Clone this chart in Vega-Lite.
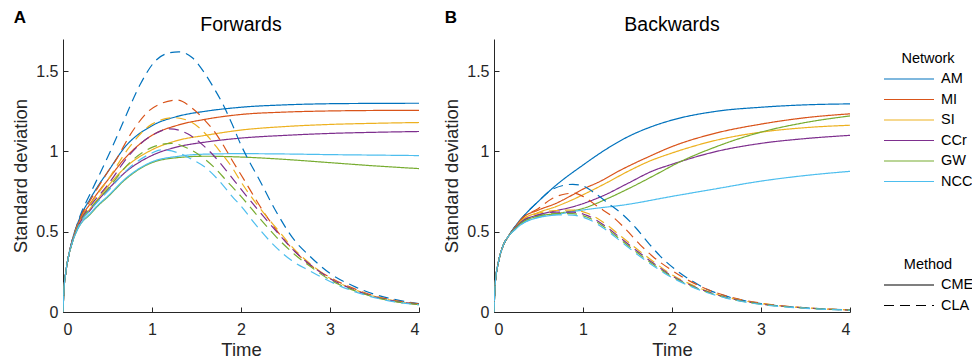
{
"$schema":"https://vega.github.io/schema/vega-lite/v6.json",
"padding":{"left":11,"top":8,"right":0,"bottom":0},
"config":{
 "font":"Liberation Sans",
 "view":{"stroke":null},
 "axis":{"grid":false,"domainColor":"#262626","tickColor":"#262626","labelColor":"#262626","titleColor":"#262626","labelFontSize":16,"titleFontSize":18.5,"titleFontWeight":"normal","tickSize":-5,"domainWidth":1,"tickWidth":1},
 "axisX":{"titlePadding":3,"labelPadding":14},
 "axisY":{"titlePadding":5,"labelPadding":10},
 "title":{"fontSize":19.5,"fontWeight":"normal","color":"#000"},
 "legend":{"orient":"none","symbolType":"stroke","symbolSize":2500,"symbolStrokeWidth":1.2,"labelFontSize":14.5,"titleFontSize":14.5,"titleFontWeight":"normal","labelColor":"#000","titleColor":"#000","titleAnchor":"middle","clipHeight":18,"rowPadding":2.5,"titlePadding":3.5,"labelOffset":6}
},
"datasets":{
"fwd":[
{"n":"AM","m":"CME","t":0,"v":0},{"n":"AM","m":"CME","t":0.01,"v":0.13},{"n":"AM","m":"CME","t":0.03,"v":0.24},{"n":"AM","m":"CME","t":0.06,"v":0.34},{"n":"AM","m":"CME","t":0.1,"v":0.44},{"n":"AM","m":"CME","t":0.15,"v":0.53},{"n":"AM","m":"CME","t":0.2,"v":0.6},{"n":"AM","m":"CME","t":0.3,"v":0.7},{"n":"AM","m":"CME","t":0.4,"v":0.79},{"n":"AM","m":"CME","t":0.5,"v":0.87},{"n":"AM","m":"CME","t":0.7,"v":1.03},{"n":"AM","m":"CME","t":1,"v":1.16},{"n":"AM","m":"CME","t":1.3,"v":1.22},{"n":"AM","m":"CME","t":1.6,"v":1.25},{"n":"AM","m":"CME","t":2,"v":1.275},{"n":"AM","m":"CME","t":2.5,"v":1.29},{"n":"AM","m":"CME","t":3,"v":1.297},{"n":"AM","m":"CME","t":3.5,"v":1.299},{"n":"AM","m":"CME","t":4,"v":1.3},
{"n":"MI","m":"CME","t":0,"v":0},{"n":"MI","m":"CME","t":0.01,"v":0.13},{"n":"MI","m":"CME","t":0.03,"v":0.24},{"n":"MI","m":"CME","t":0.06,"v":0.34},{"n":"MI","m":"CME","t":0.1,"v":0.435},{"n":"MI","m":"CME","t":0.15,"v":0.52},{"n":"MI","m":"CME","t":0.2,"v":0.585},{"n":"MI","m":"CME","t":0.3,"v":0.67},{"n":"MI","m":"CME","t":0.4,"v":0.75},{"n":"MI","m":"CME","t":0.5,"v":0.82},{"n":"MI","m":"CME","t":0.7,"v":0.96},{"n":"MI","m":"CME","t":1,"v":1.1},{"n":"MI","m":"CME","t":1.3,"v":1.165},{"n":"MI","m":"CME","t":1.6,"v":1.2},{"n":"MI","m":"CME","t":2,"v":1.23},{"n":"MI","m":"CME","t":2.5,"v":1.245},{"n":"MI","m":"CME","t":3,"v":1.252},{"n":"MI","m":"CME","t":3.5,"v":1.255},{"n":"MI","m":"CME","t":4,"v":1.256},
{"n":"SI","m":"CME","t":0,"v":0},{"n":"SI","m":"CME","t":0.01,"v":0.13},{"n":"SI","m":"CME","t":0.03,"v":0.24},{"n":"SI","m":"CME","t":0.06,"v":0.34},{"n":"SI","m":"CME","t":0.1,"v":0.43},{"n":"SI","m":"CME","t":0.15,"v":0.51},{"n":"SI","m":"CME","t":0.2,"v":0.57},{"n":"SI","m":"CME","t":0.3,"v":0.64},{"n":"SI","m":"CME","t":0.4,"v":0.71},{"n":"SI","m":"CME","t":0.5,"v":0.78},{"n":"SI","m":"CME","t":0.7,"v":0.9},{"n":"SI","m":"CME","t":1,"v":1.01},{"n":"SI","m":"CME","t":1.3,"v":1.07},{"n":"SI","m":"CME","t":1.6,"v":1.1},{"n":"SI","m":"CME","t":2,"v":1.133},{"n":"SI","m":"CME","t":2.5,"v":1.155},{"n":"SI","m":"CME","t":3,"v":1.168},{"n":"SI","m":"CME","t":3.5,"v":1.175},{"n":"SI","m":"CME","t":4,"v":1.18},
{"n":"CCr","m":"CME","t":0,"v":0},{"n":"CCr","m":"CME","t":0.01,"v":0.13},{"n":"CCr","m":"CME","t":0.03,"v":0.24},{"n":"CCr","m":"CME","t":0.06,"v":0.34},{"n":"CCr","m":"CME","t":0.1,"v":0.43},{"n":"CCr","m":"CME","t":0.15,"v":0.505},{"n":"CCr","m":"CME","t":0.2,"v":0.565},{"n":"CCr","m":"CME","t":0.3,"v":0.63},{"n":"CCr","m":"CME","t":0.4,"v":0.7},{"n":"CCr","m":"CME","t":0.5,"v":0.76},{"n":"CCr","m":"CME","t":0.7,"v":0.87},{"n":"CCr","m":"CME","t":1,"v":0.975},{"n":"CCr","m":"CME","t":1.3,"v":1.03},{"n":"CCr","m":"CME","t":1.6,"v":1.058},{"n":"CCr","m":"CME","t":2,"v":1.083},{"n":"CCr","m":"CME","t":2.5,"v":1.1},{"n":"CCr","m":"CME","t":3,"v":1.112},{"n":"CCr","m":"CME","t":3.5,"v":1.119},{"n":"CCr","m":"CME","t":4,"v":1.124},
{"n":"GW","m":"CME","t":0,"v":0},{"n":"GW","m":"CME","t":0.01,"v":0.13},{"n":"GW","m":"CME","t":0.03,"v":0.24},{"n":"GW","m":"CME","t":0.06,"v":0.34},{"n":"GW","m":"CME","t":0.1,"v":0.425},{"n":"GW","m":"CME","t":0.15,"v":0.5},{"n":"GW","m":"CME","t":0.2,"v":0.55},{"n":"GW","m":"CME","t":0.3,"v":0.605},{"n":"GW","m":"CME","t":0.4,"v":0.665},{"n":"GW","m":"CME","t":0.5,"v":0.715},{"n":"GW","m":"CME","t":0.7,"v":0.825},{"n":"GW","m":"CME","t":1,"v":0.93},{"n":"GW","m":"CME","t":1.3,"v":0.962},{"n":"GW","m":"CME","t":1.6,"v":0.97},{"n":"GW","m":"CME","t":2,"v":0.965},{"n":"GW","m":"CME","t":2.5,"v":0.95},{"n":"GW","m":"CME","t":3,"v":0.93},{"n":"GW","m":"CME","t":3.5,"v":0.91},{"n":"GW","m":"CME","t":4,"v":0.893},
{"n":"NCC","m":"CME","t":0,"v":0},{"n":"NCC","m":"CME","t":0.01,"v":0.13},{"n":"NCC","m":"CME","t":0.03,"v":0.24},{"n":"NCC","m":"CME","t":0.06,"v":0.34},{"n":"NCC","m":"CME","t":0.1,"v":0.425},{"n":"NCC","m":"CME","t":0.15,"v":0.5},{"n":"NCC","m":"CME","t":0.2,"v":0.55},{"n":"NCC","m":"CME","t":0.3,"v":0.61},{"n":"NCC","m":"CME","t":0.4,"v":0.67},{"n":"NCC","m":"CME","t":0.5,"v":0.72},{"n":"NCC","m":"CME","t":0.7,"v":0.83},{"n":"NCC","m":"CME","t":1,"v":0.935},{"n":"NCC","m":"CME","t":1.3,"v":0.97},{"n":"NCC","m":"CME","t":1.6,"v":0.983},{"n":"NCC","m":"CME","t":2,"v":0.986},{"n":"NCC","m":"CME","t":2.5,"v":0.984},{"n":"NCC","m":"CME","t":3,"v":0.98},{"n":"NCC","m":"CME","t":3.5,"v":0.977},{"n":"NCC","m":"CME","t":4,"v":0.974},
{"n":"AM","m":"CLA","t":0,"v":0},{"n":"AM","m":"CLA","t":0.01,"v":0.13},{"n":"AM","m":"CLA","t":0.03,"v":0.24},{"n":"AM","m":"CLA","t":0.06,"v":0.34},{"n":"AM","m":"CLA","t":0.1,"v":0.44},{"n":"AM","m":"CLA","t":0.15,"v":0.53},{"n":"AM","m":"CLA","t":0.2,"v":0.61},{"n":"AM","m":"CLA","t":0.3,"v":0.73},{"n":"AM","m":"CLA","t":0.43,"v":0.88},{"n":"AM","m":"CLA","t":0.56,"v":1.035},{"n":"AM","m":"CLA","t":0.69,"v":1.2},{"n":"AM","m":"CLA","t":0.87,"v":1.42},{"n":"AM","m":"CLA","t":1.04,"v":1.565},{"n":"AM","m":"CLA","t":1.17,"v":1.61},{"n":"AM","m":"CLA","t":1.3,"v":1.62},{"n":"AM","m":"CLA","t":1.45,"v":1.585},{"n":"AM","m":"CLA","t":1.6,"v":1.48},{"n":"AM","m":"CLA","t":1.7,"v":1.39},{"n":"AM","m":"CLA","t":1.8,"v":1.29},{"n":"AM","m":"CLA","t":1.9,"v":1.17},{"n":"AM","m":"CLA","t":2,"v":1.04},{"n":"AM","m":"CLA","t":2.1,"v":0.93},{"n":"AM","m":"CLA","t":2.2,"v":0.83},{"n":"AM","m":"CLA","t":2.38,"v":0.64},{"n":"AM","m":"CLA","t":2.61,"v":0.44},{"n":"AM","m":"CLA","t":2.75,"v":0.36},{"n":"AM","m":"CLA","t":3,"v":0.24},{"n":"AM","m":"CLA","t":3.25,"v":0.165},{"n":"AM","m":"CLA","t":3.5,"v":0.11},{"n":"AM","m":"CLA","t":3.75,"v":0.075},{"n":"AM","m":"CLA","t":4,"v":0.052},
{"n":"MI","m":"CLA","t":0,"v":0},{"n":"MI","m":"CLA","t":0.01,"v":0.13},{"n":"MI","m":"CLA","t":0.03,"v":0.24},{"n":"MI","m":"CLA","t":0.06,"v":0.34},{"n":"MI","m":"CLA","t":0.1,"v":0.435},{"n":"MI","m":"CLA","t":0.15,"v":0.525},{"n":"MI","m":"CLA","t":0.2,"v":0.595},{"n":"MI","m":"CLA","t":0.3,"v":0.69},{"n":"MI","m":"CLA","t":0.5,"v":0.87},{"n":"MI","m":"CLA","t":0.61,"v":0.96},{"n":"MI","m":"CLA","t":0.74,"v":1.09},{"n":"MI","m":"CLA","t":0.85,"v":1.18},{"n":"MI","m":"CLA","t":0.96,"v":1.25},{"n":"MI","m":"CLA","t":1.11,"v":1.3},{"n":"MI","m":"CLA","t":1.28,"v":1.32},{"n":"MI","m":"CLA","t":1.45,"v":1.27},{"n":"MI","m":"CLA","t":1.6,"v":1.19},{"n":"MI","m":"CLA","t":1.7,"v":1.125},{"n":"MI","m":"CLA","t":1.8,"v":1.04},{"n":"MI","m":"CLA","t":1.9,"v":0.945},{"n":"MI","m":"CLA","t":2,"v":0.855},{"n":"MI","m":"CLA","t":2.27,"v":0.61},{"n":"MI","m":"CLA","t":2.42,"v":0.494},{"n":"MI","m":"CLA","t":2.72,"v":0.318},{"n":"MI","m":"CLA","t":3,"v":0.215},{"n":"MI","m":"CLA","t":3.25,"v":0.15},{"n":"MI","m":"CLA","t":3.5,"v":0.1},{"n":"MI","m":"CLA","t":3.75,"v":0.07},{"n":"MI","m":"CLA","t":4,"v":0.05},
{"n":"SI","m":"CLA","t":0,"v":0},{"n":"SI","m":"CLA","t":0.01,"v":0.13},{"n":"SI","m":"CLA","t":0.03,"v":0.24},{"n":"SI","m":"CLA","t":0.06,"v":0.34},{"n":"SI","m":"CLA","t":0.1,"v":0.43},{"n":"SI","m":"CLA","t":0.15,"v":0.515},{"n":"SI","m":"CLA","t":0.2,"v":0.58},{"n":"SI","m":"CLA","t":0.3,"v":0.665},{"n":"SI","m":"CLA","t":0.5,"v":0.82},{"n":"SI","m":"CLA","t":0.75,"v":1.03},{"n":"SI","m":"CLA","t":1,"v":1.17},{"n":"SI","m":"CLA","t":1.25,"v":1.21},{"n":"SI","m":"CLA","t":1.45,"v":1.18},{"n":"SI","m":"CLA","t":1.6,"v":1.11},{"n":"SI","m":"CLA","t":1.75,"v":1.01},{"n":"SI","m":"CLA","t":1.9,"v":0.9},{"n":"SI","m":"CLA","t":2,"v":0.81},{"n":"SI","m":"CLA","t":2.2,"v":0.655},{"n":"SI","m":"CLA","t":2.4,"v":0.52},{"n":"SI","m":"CLA","t":2.6,"v":0.39},{"n":"SI","m":"CLA","t":2.8,"v":0.29},{"n":"SI","m":"CLA","t":3,"v":0.21},{"n":"SI","m":"CLA","t":3.25,"v":0.145},{"n":"SI","m":"CLA","t":3.5,"v":0.097},{"n":"SI","m":"CLA","t":3.75,"v":0.066},{"n":"SI","m":"CLA","t":4,"v":0.048},
{"n":"CCr","m":"CLA","t":0,"v":0},{"n":"CCr","m":"CLA","t":0.01,"v":0.13},{"n":"CCr","m":"CLA","t":0.03,"v":0.24},{"n":"CCr","m":"CLA","t":0.06,"v":0.34},{"n":"CCr","m":"CLA","t":0.1,"v":0.43},{"n":"CCr","m":"CLA","t":0.15,"v":0.51},{"n":"CCr","m":"CLA","t":0.2,"v":0.575},{"n":"CCr","m":"CLA","t":0.3,"v":0.655},{"n":"CCr","m":"CLA","t":0.5,"v":0.79},{"n":"CCr","m":"CLA","t":0.75,"v":0.98},{"n":"CCr","m":"CLA","t":1,"v":1.1},{"n":"CCr","m":"CLA","t":1.2,"v":1.14},{"n":"CCr","m":"CLA","t":1.4,"v":1.11},{"n":"CCr","m":"CLA","t":1.55,"v":1.05},{"n":"CCr","m":"CLA","t":1.7,"v":0.97},{"n":"CCr","m":"CLA","t":1.85,"v":0.87},{"n":"CCr","m":"CLA","t":2,"v":0.765},{"n":"CCr","m":"CLA","t":2.2,"v":0.63},{"n":"CCr","m":"CLA","t":2.4,"v":0.5},{"n":"CCr","m":"CLA","t":2.6,"v":0.38},{"n":"CCr","m":"CLA","t":2.8,"v":0.285},{"n":"CCr","m":"CLA","t":3,"v":0.208},{"n":"CCr","m":"CLA","t":3.25,"v":0.143},{"n":"CCr","m":"CLA","t":3.5,"v":0.095},{"n":"CCr","m":"CLA","t":3.75,"v":0.065},{"n":"CCr","m":"CLA","t":4,"v":0.047},
{"n":"GW","m":"CLA","t":0,"v":0},{"n":"GW","m":"CLA","t":0.01,"v":0.13},{"n":"GW","m":"CLA","t":0.03,"v":0.24},{"n":"GW","m":"CLA","t":0.06,"v":0.34},{"n":"GW","m":"CLA","t":0.1,"v":0.425},{"n":"GW","m":"CLA","t":0.15,"v":0.505},{"n":"GW","m":"CLA","t":0.2,"v":0.565},{"n":"GW","m":"CLA","t":0.3,"v":0.64},{"n":"GW","m":"CLA","t":0.5,"v":0.765},{"n":"GW","m":"CLA","t":0.75,"v":0.93},{"n":"GW","m":"CLA","t":1,"v":1.025},{"n":"GW","m":"CLA","t":1.22,"v":1.05},{"n":"GW","m":"CLA","t":1.4,"v":1.02},{"n":"GW","m":"CLA","t":1.55,"v":0.97},{"n":"GW","m":"CLA","t":1.7,"v":0.9},{"n":"GW","m":"CLA","t":1.85,"v":0.81},{"n":"GW","m":"CLA","t":2,"v":0.72},{"n":"GW","m":"CLA","t":2.2,"v":0.59},{"n":"GW","m":"CLA","t":2.4,"v":0.465},{"n":"GW","m":"CLA","t":2.6,"v":0.36},{"n":"GW","m":"CLA","t":2.8,"v":0.275},{"n":"GW","m":"CLA","t":3,"v":0.2},{"n":"GW","m":"CLA","t":3.25,"v":0.138},{"n":"GW","m":"CLA","t":3.5,"v":0.092},{"n":"GW","m":"CLA","t":3.75,"v":0.063},{"n":"GW","m":"CLA","t":4,"v":0.046},
{"n":"NCC","m":"CLA","t":0,"v":0},{"n":"NCC","m":"CLA","t":0.01,"v":0.13},{"n":"NCC","m":"CLA","t":0.03,"v":0.24},{"n":"NCC","m":"CLA","t":0.06,"v":0.34},{"n":"NCC","m":"CLA","t":0.1,"v":0.425},{"n":"NCC","m":"CLA","t":0.15,"v":0.5},{"n":"NCC","m":"CLA","t":0.2,"v":0.56},{"n":"NCC","m":"CLA","t":0.3,"v":0.63},{"n":"NCC","m":"CLA","t":0.5,"v":0.75},{"n":"NCC","m":"CLA","t":0.75,"v":0.9},{"n":"NCC","m":"CLA","t":1,"v":0.99},{"n":"NCC","m":"CLA","t":1.1,"v":1.01},{"n":"NCC","m":"CLA","t":1.3,"v":0.99},{"n":"NCC","m":"CLA","t":1.45,"v":0.95},{"n":"NCC","m":"CLA","t":1.6,"v":0.9},{"n":"NCC","m":"CLA","t":1.75,"v":0.82},{"n":"NCC","m":"CLA","t":1.9,"v":0.72},{"n":"NCC","m":"CLA","t":2,"v":0.66},{"n":"NCC","m":"CLA","t":2.16,"v":0.547},{"n":"NCC","m":"CLA","t":2.38,"v":0.41},{"n":"NCC","m":"CLA","t":2.57,"v":0.32},{"n":"NCC","m":"CLA","t":2.76,"v":0.26},{"n":"NCC","m":"CLA","t":3,"v":0.19},{"n":"NCC","m":"CLA","t":3.25,"v":0.132},{"n":"NCC","m":"CLA","t":3.5,"v":0.09},{"n":"NCC","m":"CLA","t":3.75,"v":0.061},{"n":"NCC","m":"CLA","t":4,"v":0.045}
],
"bwd":[
{"n":"AM","m":"CME","t":0,"v":0},{"n":"AM","m":"CME","t":0.013,"v":0.17},{"n":"AM","m":"CME","t":0.05,"v":0.31},{"n":"AM","m":"CME","t":0.1,"v":0.41},{"n":"AM","m":"CME","t":0.16,"v":0.47},{"n":"AM","m":"CME","t":0.24,"v":0.535},{"n":"AM","m":"CME","t":0.31,"v":0.583},{"n":"AM","m":"CME","t":0.5,"v":0.69},{"n":"AM","m":"CME","t":0.69,"v":0.786},{"n":"AM","m":"CME","t":1,"v":0.915},{"n":"AM","m":"CME","t":1.25,"v":1.01},{"n":"AM","m":"CME","t":1.5,"v":1.09},{"n":"AM","m":"CME","t":1.75,"v":1.15},{"n":"AM","m":"CME","t":2,"v":1.195},{"n":"AM","m":"CME","t":2.5,"v":1.25},{"n":"AM","m":"CME","t":3,"v":1.275},{"n":"AM","m":"CME","t":3.5,"v":1.29},{"n":"AM","m":"CME","t":4,"v":1.296},
{"n":"MI","m":"CME","t":0,"v":0},{"n":"MI","m":"CME","t":0.013,"v":0.17},{"n":"MI","m":"CME","t":0.05,"v":0.31},{"n":"MI","m":"CME","t":0.1,"v":0.41},{"n":"MI","m":"CME","t":0.16,"v":0.47},{"n":"MI","m":"CME","t":0.24,"v":0.53},{"n":"MI","m":"CME","t":0.31,"v":0.58},{"n":"MI","m":"CME","t":0.5,"v":0.635},{"n":"MI","m":"CME","t":0.69,"v":0.675},{"n":"MI","m":"CME","t":0.885,"v":0.73},{"n":"MI","m":"CME","t":1,"v":0.765},{"n":"MI","m":"CME","t":1.18,"v":0.81},{"n":"MI","m":"CME","t":1.41,"v":0.88},{"n":"MI","m":"CME","t":1.75,"v":0.97},{"n":"MI","m":"CME","t":2,"v":1.03},{"n":"MI","m":"CME","t":2.5,"v":1.115},{"n":"MI","m":"CME","t":3,"v":1.17},{"n":"MI","m":"CME","t":3.5,"v":1.21},{"n":"MI","m":"CME","t":4,"v":1.234},
{"n":"SI","m":"CME","t":0,"v":0},{"n":"SI","m":"CME","t":0.013,"v":0.17},{"n":"SI","m":"CME","t":0.05,"v":0.31},{"n":"SI","m":"CME","t":0.1,"v":0.41},{"n":"SI","m":"CME","t":0.16,"v":0.47},{"n":"SI","m":"CME","t":0.24,"v":0.525},{"n":"SI","m":"CME","t":0.31,"v":0.57},{"n":"SI","m":"CME","t":0.5,"v":0.62},{"n":"SI","m":"CME","t":0.69,"v":0.655},{"n":"SI","m":"CME","t":0.885,"v":0.7},{"n":"SI","m":"CME","t":1,"v":0.73},{"n":"SI","m":"CME","t":1.25,"v":0.8},{"n":"SI","m":"CME","t":1.52,"v":0.88},{"n":"SI","m":"CME","t":1.75,"v":0.94},{"n":"SI","m":"CME","t":2,"v":0.99},{"n":"SI","m":"CME","t":2.5,"v":1.07},{"n":"SI","m":"CME","t":3,"v":1.12},{"n":"SI","m":"CME","t":3.5,"v":1.148},{"n":"SI","m":"CME","t":4,"v":1.163},
{"n":"CCr","m":"CME","t":0,"v":0},{"n":"CCr","m":"CME","t":0.013,"v":0.17},{"n":"CCr","m":"CME","t":0.05,"v":0.31},{"n":"CCr","m":"CME","t":0.1,"v":0.41},{"n":"CCr","m":"CME","t":0.16,"v":0.47},{"n":"CCr","m":"CME","t":0.24,"v":0.525},{"n":"CCr","m":"CME","t":0.31,"v":0.562},{"n":"CCr","m":"CME","t":0.5,"v":0.605},{"n":"CCr","m":"CME","t":0.69,"v":0.63},{"n":"CCr","m":"CME","t":0.885,"v":0.655},{"n":"CCr","m":"CME","t":1,"v":0.675},{"n":"CCr","m":"CME","t":1.25,"v":0.73},{"n":"CCr","m":"CME","t":1.5,"v":0.8},{"n":"CCr","m":"CME","t":1.79,"v":0.88},{"n":"CCr","m":"CME","t":2,"v":0.92},{"n":"CCr","m":"CME","t":2.5,"v":1.0},{"n":"CCr","m":"CME","t":3,"v":1.05},{"n":"CCr","m":"CME","t":3.5,"v":1.08},{"n":"CCr","m":"CME","t":4,"v":1.1},
{"n":"GW","m":"CME","t":0,"v":0},{"n":"GW","m":"CME","t":0.013,"v":0.17},{"n":"GW","m":"CME","t":0.05,"v":0.31},{"n":"GW","m":"CME","t":0.1,"v":0.41},{"n":"GW","m":"CME","t":0.16,"v":0.47},{"n":"GW","m":"CME","t":0.24,"v":0.52},{"n":"GW","m":"CME","t":0.31,"v":0.555},{"n":"GW","m":"CME","t":0.5,"v":0.597},{"n":"GW","m":"CME","t":0.69,"v":0.612},{"n":"GW","m":"CME","t":0.885,"v":0.63},{"n":"GW","m":"CME","t":1,"v":0.645},{"n":"GW","m":"CME","t":1.25,"v":0.7},{"n":"GW","m":"CME","t":1.5,"v":0.765},{"n":"GW","m":"CME","t":1.9,"v":0.88},{"n":"GW","m":"CME","t":2,"v":0.91},{"n":"GW","m":"CME","t":2.5,"v":1.03},{"n":"GW","m":"CME","t":3,"v":1.12},{"n":"GW","m":"CME","t":3.5,"v":1.18},{"n":"GW","m":"CME","t":4,"v":1.221},
{"n":"NCC","m":"CME","t":0,"v":0},{"n":"NCC","m":"CME","t":0.013,"v":0.17},{"n":"NCC","m":"CME","t":0.05,"v":0.31},{"n":"NCC","m":"CME","t":0.1,"v":0.41},{"n":"NCC","m":"CME","t":0.16,"v":0.47},{"n":"NCC","m":"CME","t":0.24,"v":0.515},{"n":"NCC","m":"CME","t":0.31,"v":0.547},{"n":"NCC","m":"CME","t":0.5,"v":0.588},{"n":"NCC","m":"CME","t":0.69,"v":0.605},{"n":"NCC","m":"CME","t":0.885,"v":0.625},{"n":"NCC","m":"CME","t":1,"v":0.635},{"n":"NCC","m":"CME","t":1.5,"v":0.67},{"n":"NCC","m":"CME","t":2,"v":0.72},{"n":"NCC","m":"CME","t":2.47,"v":0.765},{"n":"NCC","m":"CME","t":3,"v":0.815},{"n":"NCC","m":"CME","t":3.5,"v":0.85},{"n":"NCC","m":"CME","t":4,"v":0.876},
{"n":"AM","m":"CLA","t":0,"v":0},{"n":"AM","m":"CLA","t":0.013,"v":0.17},{"n":"AM","m":"CLA","t":0.05,"v":0.31},{"n":"AM","m":"CLA","t":0.1,"v":0.41},{"n":"AM","m":"CLA","t":0.16,"v":0.47},{"n":"AM","m":"CLA","t":0.24,"v":0.535},{"n":"AM","m":"CLA","t":0.31,"v":0.583},{"n":"AM","m":"CLA","t":0.5,"v":0.69},{"n":"AM","m":"CLA","t":0.66,"v":0.765},{"n":"AM","m":"CLA","t":0.885,"v":0.795},{"n":"AM","m":"CLA","t":1,"v":0.785},{"n":"AM","m":"CLA","t":1.12,"v":0.745},{"n":"AM","m":"CLA","t":1.3,"v":0.67},{"n":"AM","m":"CLA","t":1.45,"v":0.605},{"n":"AM","m":"CLA","t":1.6,"v":0.52},{"n":"AM","m":"CLA","t":1.75,"v":0.42},{"n":"AM","m":"CLA","t":1.9,"v":0.33},{"n":"AM","m":"CLA","t":2.06,"v":0.255},{"n":"AM","m":"CLA","t":2.22,"v":0.195},{"n":"AM","m":"CLA","t":2.4,"v":0.14},{"n":"AM","m":"CLA","t":2.6,"v":0.1},{"n":"AM","m":"CLA","t":2.8,"v":0.072},{"n":"AM","m":"CLA","t":3,"v":0.052},{"n":"AM","m":"CLA","t":3.5,"v":0.026},{"n":"AM","m":"CLA","t":4,"v":0.013},
{"n":"MI","m":"CLA","t":0,"v":0},{"n":"MI","m":"CLA","t":0.013,"v":0.17},{"n":"MI","m":"CLA","t":0.05,"v":0.31},{"n":"MI","m":"CLA","t":0.1,"v":0.41},{"n":"MI","m":"CLA","t":0.16,"v":0.47},{"n":"MI","m":"CLA","t":0.24,"v":0.53},{"n":"MI","m":"CLA","t":0.31,"v":0.58},{"n":"MI","m":"CLA","t":0.5,"v":0.645},{"n":"MI","m":"CLA","t":0.65,"v":0.705},{"n":"MI","m":"CLA","t":0.8,"v":0.735},{"n":"MI","m":"CLA","t":0.9,"v":0.74},{"n":"MI","m":"CLA","t":1,"v":0.72},{"n":"MI","m":"CLA","t":1.17,"v":0.655},{"n":"MI","m":"CLA","t":1.34,"v":0.59},{"n":"MI","m":"CLA","t":1.49,"v":0.51},{"n":"MI","m":"CLA","t":1.64,"v":0.42},{"n":"MI","m":"CLA","t":1.79,"v":0.343},{"n":"MI","m":"CLA","t":1.97,"v":0.27},{"n":"MI","m":"CLA","t":2.13,"v":0.214},{"n":"MI","m":"CLA","t":2.28,"v":0.17},{"n":"MI","m":"CLA","t":2.5,"v":0.12},{"n":"MI","m":"CLA","t":2.75,"v":0.08},{"n":"MI","m":"CLA","t":3,"v":0.055},{"n":"MI","m":"CLA","t":3.5,"v":0.026},{"n":"MI","m":"CLA","t":4,"v":0.013},
{"n":"SI","m":"CLA","t":0,"v":0},{"n":"SI","m":"CLA","t":0.013,"v":0.17},{"n":"SI","m":"CLA","t":0.05,"v":0.31},{"n":"SI","m":"CLA","t":0.1,"v":0.41},{"n":"SI","m":"CLA","t":0.16,"v":0.47},{"n":"SI","m":"CLA","t":0.24,"v":0.525},{"n":"SI","m":"CLA","t":0.31,"v":0.57},{"n":"SI","m":"CLA","t":0.5,"v":0.615},{"n":"SI","m":"CLA","t":0.7,"v":0.632},{"n":"SI","m":"CLA","t":0.885,"v":0.635},{"n":"SI","m":"CLA","t":1.05,"v":0.615},{"n":"SI","m":"CLA","t":1.25,"v":0.55},{"n":"SI","m":"CLA","t":1.43,"v":0.47},{"n":"SI","m":"CLA","t":1.6,"v":0.395},{"n":"SI","m":"CLA","t":1.8,"v":0.31},{"n":"SI","m":"CLA","t":2,"v":0.232},{"n":"SI","m":"CLA","t":2.2,"v":0.175},{"n":"SI","m":"CLA","t":2.4,"v":0.13},{"n":"SI","m":"CLA","t":2.6,"v":0.095},{"n":"SI","m":"CLA","t":2.8,"v":0.07},{"n":"SI","m":"CLA","t":3,"v":0.052},{"n":"SI","m":"CLA","t":3.5,"v":0.026},{"n":"SI","m":"CLA","t":4,"v":0.013},
{"n":"CCr","m":"CLA","t":0,"v":0},{"n":"CCr","m":"CLA","t":0.013,"v":0.17},{"n":"CCr","m":"CLA","t":0.05,"v":0.31},{"n":"CCr","m":"CLA","t":0.1,"v":0.41},{"n":"CCr","m":"CLA","t":0.16,"v":0.47},{"n":"CCr","m":"CLA","t":0.24,"v":0.525},{"n":"CCr","m":"CLA","t":0.31,"v":0.562},{"n":"CCr","m":"CLA","t":0.5,"v":0.605},{"n":"CCr","m":"CLA","t":0.7,"v":0.622},{"n":"CCr","m":"CLA","t":0.885,"v":0.622},{"n":"CCr","m":"CLA","t":1.05,"v":0.6},{"n":"CCr","m":"CLA","t":1.25,"v":0.535},{"n":"CCr","m":"CLA","t":1.43,"v":0.457},{"n":"CCr","m":"CLA","t":1.6,"v":0.383},{"n":"CCr","m":"CLA","t":1.8,"v":0.3},{"n":"CCr","m":"CLA","t":2,"v":0.225},{"n":"CCr","m":"CLA","t":2.2,"v":0.17},{"n":"CCr","m":"CLA","t":2.4,"v":0.126},{"n":"CCr","m":"CLA","t":2.6,"v":0.092},{"n":"CCr","m":"CLA","t":2.8,"v":0.068},{"n":"CCr","m":"CLA","t":3,"v":0.05},{"n":"CCr","m":"CLA","t":3.5,"v":0.025},{"n":"CCr","m":"CLA","t":4,"v":0.012},
{"n":"GW","m":"CLA","t":0,"v":0},{"n":"GW","m":"CLA","t":0.013,"v":0.17},{"n":"GW","m":"CLA","t":0.05,"v":0.31},{"n":"GW","m":"CLA","t":0.1,"v":0.41},{"n":"GW","m":"CLA","t":0.16,"v":0.47},{"n":"GW","m":"CLA","t":0.24,"v":0.52},{"n":"GW","m":"CLA","t":0.31,"v":0.555},{"n":"GW","m":"CLA","t":0.5,"v":0.597},{"n":"GW","m":"CLA","t":0.7,"v":0.613},{"n":"GW","m":"CLA","t":0.885,"v":0.612},{"n":"GW","m":"CLA","t":1.05,"v":0.59},{"n":"GW","m":"CLA","t":1.25,"v":0.525},{"n":"GW","m":"CLA","t":1.43,"v":0.447},{"n":"GW","m":"CLA","t":1.6,"v":0.373},{"n":"GW","m":"CLA","t":1.8,"v":0.292},{"n":"GW","m":"CLA","t":2,"v":0.22},{"n":"GW","m":"CLA","t":2.2,"v":0.166},{"n":"GW","m":"CLA","t":2.4,"v":0.123},{"n":"GW","m":"CLA","t":2.6,"v":0.09},{"n":"GW","m":"CLA","t":2.8,"v":0.066},{"n":"GW","m":"CLA","t":3,"v":0.049},{"n":"GW","m":"CLA","t":3.5,"v":0.024},{"n":"GW","m":"CLA","t":4,"v":0.012},
{"n":"NCC","m":"CLA","t":0,"v":0},{"n":"NCC","m":"CLA","t":0.013,"v":0.17},{"n":"NCC","m":"CLA","t":0.05,"v":0.31},{"n":"NCC","m":"CLA","t":0.1,"v":0.41},{"n":"NCC","m":"CLA","t":0.16,"v":0.47},{"n":"NCC","m":"CLA","t":0.24,"v":0.515},{"n":"NCC","m":"CLA","t":0.31,"v":0.547},{"n":"NCC","m":"CLA","t":0.5,"v":0.59},{"n":"NCC","m":"CLA","t":0.7,"v":0.605},{"n":"NCC","m":"CLA","t":0.885,"v":0.603},{"n":"NCC","m":"CLA","t":1.05,"v":0.58},{"n":"NCC","m":"CLA","t":1.25,"v":0.515},{"n":"NCC","m":"CLA","t":1.43,"v":0.437},{"n":"NCC","m":"CLA","t":1.6,"v":0.363},{"n":"NCC","m":"CLA","t":1.8,"v":0.284},{"n":"NCC","m":"CLA","t":2,"v":0.214},{"n":"NCC","m":"CLA","t":2.2,"v":0.162},{"n":"NCC","m":"CLA","t":2.4,"v":0.12},{"n":"NCC","m":"CLA","t":2.6,"v":0.088},{"n":"NCC","m":"CLA","t":2.8,"v":0.064},{"n":"NCC","m":"CLA","t":3,"v":0.047},{"n":"NCC","m":"CLA","t":3.5,"v":0.023},{"n":"NCC","m":"CLA","t":4,"v":0.011}
]
},
"spacing":22,
"hconcat":[
{"title":{"text":"A","anchor":"start","fontSize":17,"fontWeight":"bold","offset":-12,"dx":2},
 "vconcat":[{
  "title":"Forwards",
  "width":356,"height":273,
  "data":{"name":"fwd"},
  "mark":{"type":"line","interpolate":"monotone","strokeWidth":1.2,"clip":true},
  "encoding":{
   "x":{"field":"t","type":"quantitative","scale":{"domain":[0,4],"nice":false},"axis":{"title":"Time","values":[0,1,2,3,4],"format":"d"}},
   "y":{"field":"v","type":"quantitative","scale":{"domain":[0,1.7],"nice":false},"axis":{"title":"Standard deviation","values":[0,0.5,1,1.5],"format":"~g"}},
   "color":{"field":"n","type":"nominal","scale":{"domain":["AM","MI","SI","CCr","GW","NCC"],"range":["#0072BD","#D95319","#EDB120","#7E2F8E","#77AC30","#4DBEEE"]},"legend":{"title":"Network","legendX":820,"legendY":13}},
   "strokeDash":{"field":"m","type":"nominal","scale":{"domain":["CME","CLA"],"range":[[1,0],[10,6]]},"legend":{"title":"Method","legendX":820,"legendY":219,"symbolStrokeColor":"black"}}
  }
 }]
},
{"title":{"text":"B","anchor":"start","fontSize":17,"fontWeight":"bold","offset":-12,"dx":2},
 "vconcat":[{
  "title":"Backwards",
  "width":356,"height":273,
  "data":{"name":"bwd"},
  "mark":{"type":"line","interpolate":"monotone","strokeWidth":1.2,"clip":true},
  "encoding":{
   "x":{"field":"t","type":"quantitative","scale":{"domain":[0,4],"nice":false},"axis":{"title":"Time","values":[0,1,2,3,4],"format":"d"}},
   "y":{"field":"v","type":"quantitative","scale":{"domain":[0,1.7],"nice":false},"axis":{"title":"Standard deviation","values":[0,0.5,1,1.5],"format":"~g"}},
   "color":{"field":"n","type":"nominal","scale":{"domain":["AM","MI","SI","CCr","GW","NCC"],"range":["#0072BD","#D95319","#EDB120","#7E2F8E","#77AC30","#4DBEEE"]},"legend":{"title":"Network","legendX":820,"legendY":13}},
   "strokeDash":{"field":"m","type":"nominal","scale":{"domain":["CME","CLA"],"range":[[1,0],[10,6]]},"legend":{"title":"Method","legendX":820,"legendY":219,"symbolStrokeColor":"black"}}
  }
 }]
}
]
}
